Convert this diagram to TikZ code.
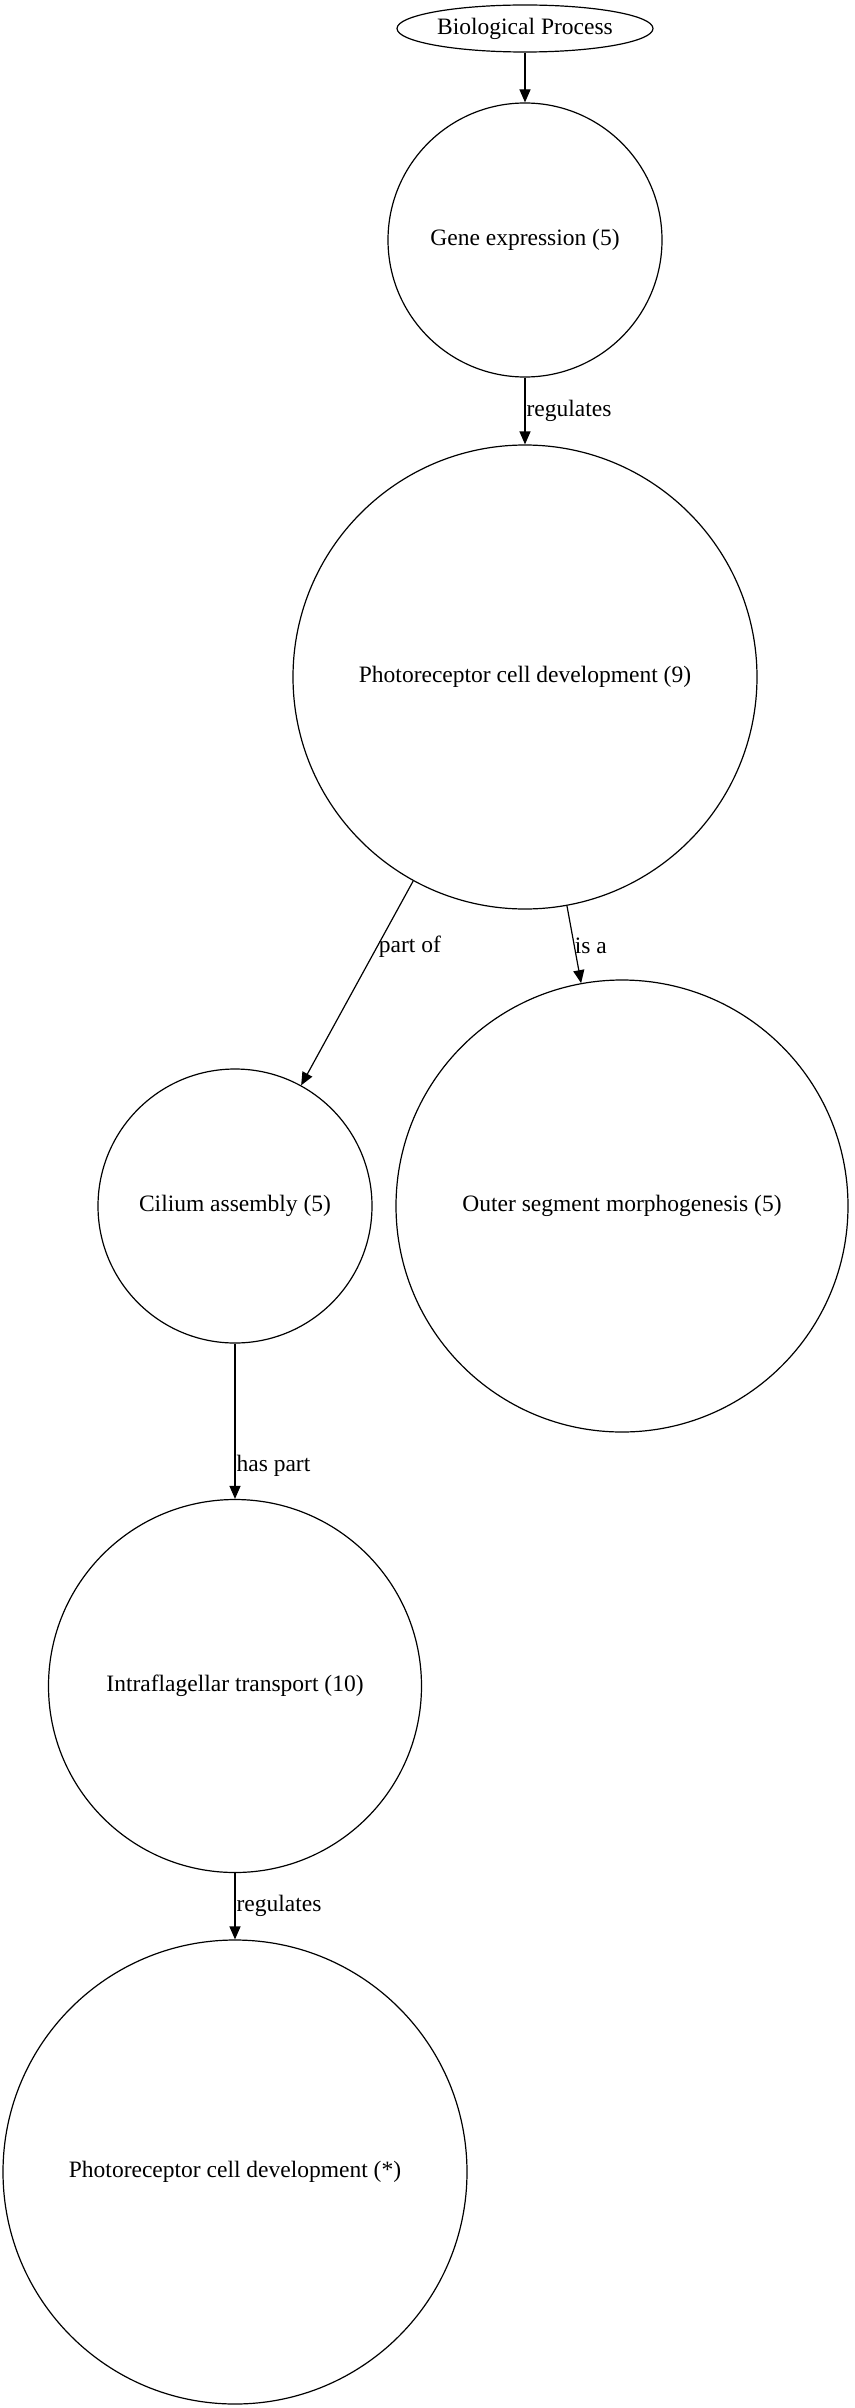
\documentclass[tikz,border=0pt]{standalone}
\usepackage{fontspec}
\setmainfont{Liberation Serif}
\usetikzlibrary{shapes.geometric,arrows.meta}

\tikzset{
  term/.style={draw,circle,inner sep=0pt,line width=1.2pt},
  rel/.style={-{Triangle[length=13pt,width=11pt]},line width=1.2pt},
  lbl/.style={anchor=west,inner sep=1pt}
}

\begin{document}
\begin{tikzpicture}[x=1pt,y=-1pt,font=\fontsize{23.5}{27}\selectfont]
    \useasboundingbox (0,0) rectangle (854,2408);

    \node[draw,ellipse,line width=1.2pt,inner sep=0pt,minimum width=256pt,minimum height=47pt] (root) at (525,28.5) {Biological Process};

    \node[term,minimum size=274pt] (geneexpr) at (525,240) {Gene expression (5)};
    \node[term,minimum size=464pt] (photodev) at (525,677) {Photoreceptor cell development (9)};
    \node[term,minimum size=274pt] (cilium) at (235,1206) {Cilium assembly (5)};
    \node[term,minimum size=452pt] (outerseg) at (622,1206) {Outer segment morphogenesis (5)};
    \node[term,minimum size=373pt] (ift) at (235,1686) {Intraflagellar transport (10)};
    \node[term,minimum size=464pt] (photostar) at (235,2172) {Photoreceptor cell development (*)};

    \draw[rel] (root) -- (geneexpr);
    \draw[rel] (geneexpr) -- (photodev) node[lbl,pos=0.5] {regulates};

    \draw[rel] (photodev) -- (cilium) node[lbl,pos=0.32] {part of};
    \draw[rel] (photodev) -- (outerseg) node[lbl,pos=0.52,inner sep=0pt] {is a};

    \draw[rel] (cilium) -- (ift) node[lbl,pos=0.79] {has part};
    \draw[rel] (ift) -- (photostar) node[lbl,pos=0.5] {regulates};
  \end{tikzpicture}
\end{document}
